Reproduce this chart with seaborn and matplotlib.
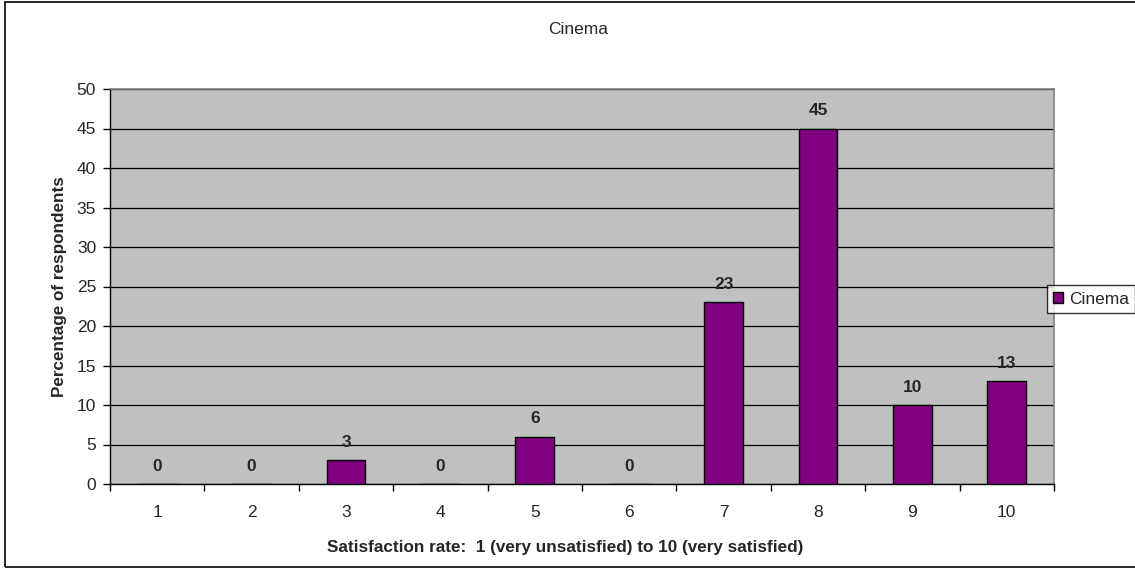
import matplotlib
matplotlib.use("Agg")
import matplotlib.pyplot as plt
from matplotlib.patches import Patch, Rectangle
import seaborn as sns
import pandas as pd

# Survey results
ratings = ["1", "2", "3", "4", "5", "6", "7", "8", "9", "10"]
percentages = [0, 0, 3, 0, 6, 0, 23, 45, 10, 13]
series_name = "Cinema"

sns.set_theme(style="white")
plt.rcParams["font.family"] = ["Liberation Sans", "DejaVu Sans"]

df = pd.DataFrame({"rating": ratings, "pct": percentages})

fig = plt.figure(figsize=(11.35, 5.69), dpi=100)
ax = fig.add_axes([110 / 1135, 1 - 484 / 569, 944 / 1135, 395 / 569])
ax.set_facecolor("#c0c0c0")

sns.barplot(data=df, x="rating", y="pct", order=ratings, color="#800080",
            edgecolor="black", linewidth=1.0, width=0.41, saturation=1, ax=ax,
            zorder=3)

ax.set_xlim(-0.5, len(ratings) - 0.5)
ax.set_ylim(0, 50)
ax.set_yticks(range(0, 51, 5))
ax.yaxis.grid(True, color="black", linewidth=0.9, zorder=1)
ax.set_axisbelow(True)
ax.tick_params(axis="y", which="major", direction="out", length=5, width=1,
               color="black", labelsize=12.5, pad=5, left=True)

# Category labels centred under bars, ticks on the boundaries
ax.set_xticks([i - 0.5 for i in range(len(ratings) + 1)])
ax.set_xticklabels([])
ax.set_xticks(range(len(ratings)), minor=True)
ax.set_xticklabels(ratings, minor=True)
ax.tick_params(axis="x", which="major", direction="out", length=5, width=1,
               color="black", bottom=True)
ax.tick_params(axis="x", which="minor", length=0, labelsize=12.5, pad=15)

for s in ("left", "bottom"):
    ax.spines[s].set_color("black")
    ax.spines[s].set_linewidth(1.0)
for s in ("top", "right"):
    ax.spines[s].set_color("#808080")
    ax.spines[s].set_linewidth(1.2)
    ax.spines[s].set_visible(True)

for c in ax.containers:
    ax.bar_label(c, labels=[str(v) for v in percentages], padding=7.5,
                 fontsize=12.5, fontweight="bold")

ax.set_xlabel("Satisfaction rate:  1 (very unsatisfied) to 10 (very satisfied)",
              fontsize=12.3, fontweight="bold")
ax.xaxis.set_label_coords(0.482, -0.142)
ax.set_ylabel("Percentage of respondents", fontsize=12.3, fontweight="bold",
              labelpad=7)
fig.text(578 / 1135, 1 - 29 / 569, "Cinema", ha="center", va="center",
         fontsize=12.5)

leg = fig.legend(handles=[Patch(facecolor="#800080", edgecolor="black",
                                label=series_name)],
                 loc="center left", bbox_to_anchor=(1047 / 1135, 1 - 299 / 569),
                 fontsize=12.5, frameon=True, fancybox=False, handlelength=0.6,
                 handleheight=0.6, handletextpad=0.3, borderpad=0.35,
                 borderaxespad=0)
leg.get_frame().set_edgecolor("black")
leg.get_frame().set_linewidth(1.0)

fig.patches.append(Rectangle((5 / 1135, 2 / 569), 1.0, 1 - 4 / 569,
                             transform=fig.transFigure, fill=False,
                             edgecolor="black", linewidth=1.2))

fig.savefig("out.png", dpi=100)
